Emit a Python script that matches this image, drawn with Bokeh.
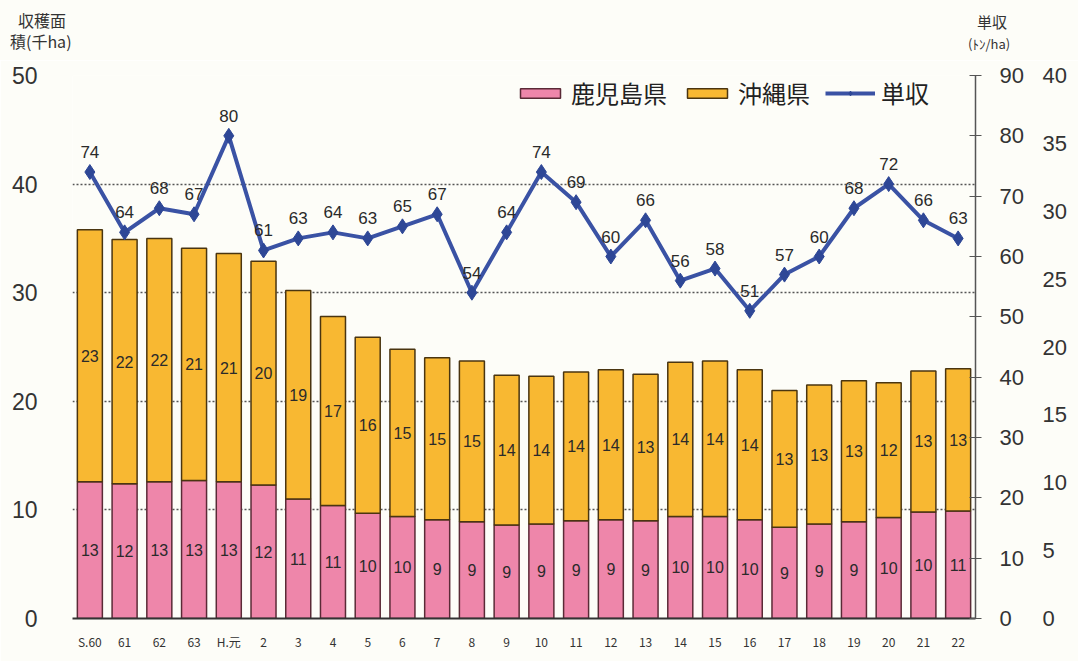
from bokeh.plotting import figure
from bokeh.layouts import column
from bokeh.models import (Range1d, LinearAxis, FixedTicker, ColumnDataSource, Legend,
                          LegendItem, FactorRange, Div)
from bokeh.embed import file_html
from bokeh.resources import INLINE
from bokeh.core.properties import value

# ---------------- data ----------------
years = ["S.60", "61", "62", "63", "H.元", "2", "3", "4", "5", "6", "7", "8", "9",
         "10", "11", "12", "13", "14", "15", "16", "17", "18", "19", "20", "21", "22"]
kagoshima = [12.6, 12.4, 12.6, 12.7, 12.6, 12.3, 11.0, 10.4, 9.7, 9.4, 9.1, 8.9, 8.6,
             8.7, 9.0, 9.1, 9.0, 9.4, 9.4, 9.1, 8.4, 8.7, 8.9, 9.3, 9.8, 9.9]
okinawa = [23.2, 22.5, 22.4, 21.4, 21.0, 20.6, 19.2, 17.4, 16.2, 15.4, 14.9, 14.8, 13.8,
           13.6, 13.7, 13.8, 13.5, 14.2, 14.3, 13.8, 12.6, 12.8, 13.0, 12.4, 13.0, 13.1]
kagoshima_labels = ["13", "12", "13", "13", "13", "12", "11", "11", "10", "10", "9", "9", "9",
                    "9", "9", "9", "9", "10", "10", "10", "9", "9", "9", "10", "10", "11"]
okinawa_labels = ["23", "22", "22", "21", "21", "20", "19", "17", "16", "15", "15", "15", "14",
                  "14", "14", "14", "13", "14", "14", "14", "13", "13", "13", "12", "13", "13"]
yield_t = [74, 64, 68, 67, 80, 61, 63, 64, 63, 65, 67, 54, 64,
           74, 69, 60, 66, 56, 58, 51, 57, 60, 68, 72, 66, 63]
left_ticks = [0, 10, 20, 30, 40, 50]
right_ticks = [0, 10, 20, 30, 40, 50, 60, 70, 80, 90]
aux_ticks = [0, 5, 10, 15, 20, 25, 30, 35, 40]
left_title = ["収穫面", "積(千ha)"]
right_title = ["単収", "(ﾄﾝ/ha)"]
legend_labels = ["鹿児島県", "沖縄県", "単収"]

PINK = "#ee86aa"
ORANGE = "#f8b832"
BLUE = "#3a52a4"
BG = "#fdfdf8"
NUM_FONT = "Liberation Sans"
JP_FONT = "Noto Sans CJK JP"
HEAD_H = 60

src = ColumnDataSource(dict(
    year=years,
    kag=kagoshima,
    oki=okinawa,
    kag_mid=[k / 2 for k in kagoshima],
    oki_mid=[k + o / 2 for k, o in zip(kagoshima, okinawa)],
    kag_lbl=kagoshima_labels,
    oki_lbl=okinawa_labels,
    yld=yield_t,
    yld_lbl=[str(v) for v in yield_t],
))

p = figure(x_range=FactorRange(*years), y_range=Range1d(0, 50),
           width=1078, height=661 - HEAD_H, output_backend="svg", toolbar_location=None,
           min_border_left=72, min_border_right=103, min_border_top=75 - HEAD_H,
           min_border_bottom=43,
           background_fill_color=BG, border_fill_color=BG, outline_line_color=None)
p.extra_y_ranges = {"yield": Range1d(0, 90), "aux": Range1d(0, 40)}

bars = p.vbar_stack(["kag", "oki"], x="year", width=0.72, source=src,
                    fill_color=[PINK, ORANGE], line_color=["#5a2a36", "#4a3510"],
                    line_width=1.5)

ln = p.line(x="year", y="yld", source=src, y_range_name="yield",
            line_color=BLUE, line_width=4)
mk = p.scatter(x="year", y="yld", source=src, y_range_name="yield", marker="diamond",
               size=15, fill_color="#2e4796", line_color="#2e4796")

common = dict(text_font=value(NUM_FONT), text_font_size="16px", text_color="#2a2a2a",
              text_align="center", text_baseline="middle")
p.text(x="year", y="kag_mid", text="kag_lbl", source=src, **common)
p.text(x="year", y="oki_mid", text="oki_lbl", source=src, **common)
p.text(x="year", y="yld", text="yld_lbl", source=src, y_range_name="yield",
       text_font=value(NUM_FONT), text_font_size="17px", text_color="#2a2a2a",
       text_align="center", text_baseline="bottom", y_offset=-14)

# axes
p.yaxis.ticker = FixedTicker(ticks=left_ticks)
p.yaxis.axis_line_color = None
p.yaxis.major_tick_line_color = None
p.yaxis.major_tick_out = 0
p.yaxis.minor_tick_line_color = None
p.yaxis.major_label_standoff = 35
p.yaxis.major_label_text_font = NUM_FONT
p.yaxis.major_label_text_font_size = "23px"
p.yaxis.major_label_text_color = "#333333"

p.xaxis.major_tick_line_color = None
p.xaxis.major_tick_out = 0
p.xaxis.axis_line_color = "#333333"
p.xaxis.axis_line_width = 2
p.xaxis.major_label_text_font = JP_FONT
p.xaxis.major_label_text_font_size = "12px"
p.xaxis.major_label_text_color = "#333333"
p.xaxis.major_label_standoff = 14

ax_r = LinearAxis(y_range_name="yield", ticker=FixedTicker(ticks=right_ticks),
                  axis_line_color="#555555", axis_line_width=1.5,
                  major_tick_line_color="#555555", major_tick_in=6, major_tick_out=6,
                  minor_tick_line_color=None, major_label_standoff=18,
                  major_label_text_font=NUM_FONT, major_label_text_font_size="22px",
                  major_label_text_color="#333333")
p.add_layout(ax_r, "right")
ax_aux = LinearAxis(y_range_name="aux", ticker=FixedTicker(ticks=aux_ticks),
                    axis_line_color=None, major_tick_line_color=None, major_tick_out=0,
                    minor_tick_line_color=None, major_label_standoff=16,
                    major_label_text_font=NUM_FONT, major_label_text_font_size="22px",
                    major_label_text_color="#333333")
p.add_layout(ax_aux, "right")

p.xgrid.grid_line_color = None
p.ygrid.ticker = FixedTicker(ticks=left_ticks)
p.ygrid.grid_line_color = "#555555"
p.ygrid.grid_line_dash = "2 2"
p.ygrid.grid_line_width = 1.5

legend = Legend(items=[
    LegendItem(label=legend_labels[0], renderers=[bars[0]]),
    LegendItem(label=legend_labels[1], renderers=[bars[1]]),
    LegendItem(label=legend_labels[2], renderers=[ln, mk]),
], orientation="horizontal", location=(443, 508), background_fill_alpha=0,
    border_line_color=None, label_text_font=JP_FONT, label_text_font_size="24px",
    label_text_color="#222222", glyph_width=50, glyph_height=12, spacing=15,
    label_standoff=6, padding=2, margin=0)
p.add_layout(legend, "center")


# axis titles above the plot (HTML header strip)
def line_div(txt, left, top, size):
    return (f'<div style="position:absolute;left:{left}px;top:{top}px;white-space:nowrap;'
            f'font-size:{size}px;line-height:{size + 2}px;">{txt}</div>')


head_html = (
    f'<div style="position:relative;width:1078px;height:{HEAD_H}px;background:{BG};'
    f'font-family:\'{JP_FONT}\',\'Noto Sans\';color:#333333;">'
    + line_div(left_title[0], 18, 11, 16)
    + line_div(left_title[1], 10, 32, 16)
    + line_div(right_title[0], 977, 13, 15)
    + line_div(right_title[1], 968, 36, 13)
    + '</div>'
)
head = Div(text=head_html, width=1078, height=HEAD_H, margin=(0, 0, 0, 0),
           styles={"background-color": BG})

layout = column(head, p, spacing=0, margin=(0, 0, 0, 0))
open("out.html", "w").write(file_html(layout, INLINE))
